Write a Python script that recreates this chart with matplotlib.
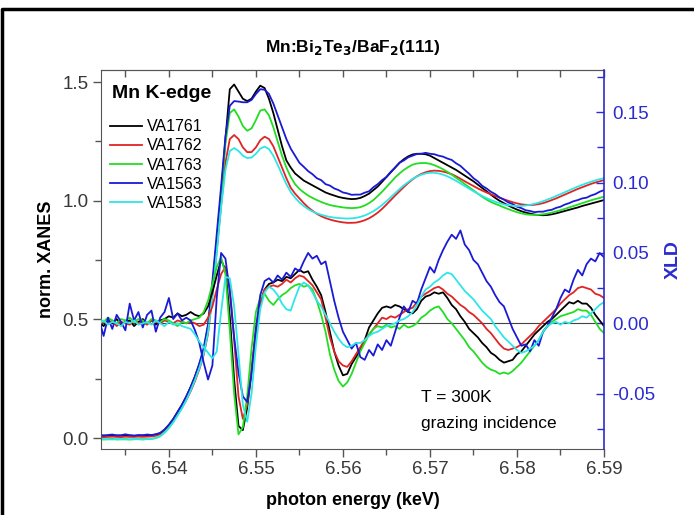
import numpy as np
import matplotlib
matplotlib.use("Agg")
import matplotlib.pyplot as plt
from matplotlib.lines import Line2D
from matplotlib.ticker import MultipleLocator, FixedLocator

plt.rcParams['font.family'] = ['Liberation Sans', 'DejaVu Sans']
plt.rcParams['axes.unicode_minus'] = False

# ---------------- data ----------------
energy = np.round(np.arange(117) * 0.0005 + 6.532, 4)   # keV grid

series_names = ["VA1761", "VA1762", "VA1763", "VA1563", "VA1583"]
series_colors = ["#000000", "#e02424", "#22dd22", "#1a1ad6", "#2ee6e6"]

xanes_VA1761 = [
    0.010, 0.011, 0.010, 0.010, 0.011, 0.010, 0.010, 0.011, 0.010, 0.010,
    0.011, 0.011, 0.012, 0.015, 0.020, 0.035, 0.055, 0.080, 0.110, 0.140,
    0.175, 0.215, 0.260, 0.310, 0.370, 0.470, 0.640, 0.830, 1.030, 1.260,
    1.470, 1.490, 1.460, 1.430, 1.420, 1.430, 1.460, 1.485, 1.475, 1.430,
    1.370, 1.300, 1.230, 1.170, 1.140, 1.115, 1.100, 1.085, 1.075, 1.065,
    1.055, 1.045, 1.035, 1.028, 1.022, 1.016, 1.012, 1.009, 1.007, 1.008,
    1.012, 1.020, 1.030, 1.045, 1.060, 1.080, 1.100, 1.120, 1.140, 1.160,
    1.175, 1.187, 1.195, 1.198, 1.198, 1.196, 1.190, 1.180, 1.170, 1.160,
    1.150, 1.140, 1.130, 1.118, 1.106, 1.094, 1.082, 1.068, 1.054, 1.040,
    1.026, 1.012, 1.000, 0.990, 0.980, 0.971, 0.963, 0.956, 0.950, 0.946,
    0.942, 0.940, 0.939, 0.940, 0.943, 0.947, 0.952, 0.957, 0.962, 0.967,
    0.972, 0.978, 0.983, 0.988, 0.993, 0.998, 1.003]
xanes_VA1762 = [
    0.006, 0.004, 0.005, 0.006, 0.005, 0.004, 0.006, 0.005, 0.005, 0.006,
    0.005, 0.006, 0.007, 0.010, 0.016, 0.030, 0.050, 0.073, 0.100, 0.128,
    0.160, 0.197, 0.240, 0.290, 0.350, 0.440, 0.600, 0.790, 0.980, 1.160,
    1.260, 1.277, 1.260, 1.225, 1.205, 1.205, 1.225, 1.255, 1.270, 1.260,
    1.230, 1.185, 1.140, 1.095, 1.055, 1.030, 1.010, 0.990, 0.972, 0.958,
    0.945, 0.935, 0.927, 0.921, 0.916, 0.912, 0.909, 0.907, 0.907, 0.908,
    0.912, 0.918, 0.926, 0.937, 0.950, 0.966, 0.984, 1.003, 1.022, 1.040,
    1.058, 1.075, 1.090, 1.103, 1.113, 1.120, 1.125, 1.127, 1.126, 1.123,
    1.118, 1.112, 1.103, 1.093, 1.082, 1.072, 1.062, 1.052, 1.043, 1.035,
    1.027, 1.020, 1.013, 1.006, 1.000, 0.994, 0.989, 0.985, 0.983, 0.982,
    0.983, 0.986, 0.990, 0.996, 1.003, 1.010, 1.018, 1.026, 1.034, 1.042,
    1.050, 1.057, 1.064, 1.071, 1.077, 1.082, 1.087]
xanes_VA1763 = [
    -0.004, -0.006, -0.005, -0.003, -0.006, -0.005, -0.004, -0.006, -0.005, -0.004,
    -0.005, -0.004, -0.003, 0.000, 0.008, 0.025, 0.045, 0.070, 0.100, 0.130,
    0.165, 0.205, 0.250, 0.300, 0.360, 0.460, 0.630, 0.820, 1.020, 1.240,
    1.370, 1.385, 1.355, 1.315, 1.295, 1.305, 1.340, 1.380, 1.385, 1.360,
    1.310, 1.250, 1.190, 1.140, 1.100, 1.070, 1.050, 1.035, 1.022, 1.012,
    1.003, 0.995, 0.988, 0.982, 0.978, 0.975, 0.972, 0.970, 0.969, 0.970,
    0.973, 0.980, 0.990, 1.003, 1.020, 1.038, 1.058, 1.078, 1.098, 1.115,
    1.130, 1.142, 1.152, 1.157, 1.159, 1.159, 1.156, 1.150, 1.142, 1.133,
    1.122, 1.110, 1.097, 1.084, 1.070, 1.057, 1.044, 1.030, 1.017, 1.005,
    0.995, 0.987, 0.980, 0.972, 0.965, 0.958, 0.952, 0.947, 0.943, 0.941,
    0.940, 0.941, 0.943, 0.946, 0.950, 0.955, 0.960, 0.966, 0.972, 0.978,
    0.984, 0.990, 0.996, 1.002, 1.007, 1.012, 1.017]
xanes_VA1563 = [
    0.014, 0.010, 0.013, 0.015, 0.011, 0.012, 0.016, 0.012, 0.010, 0.013,
    0.012, 0.015, 0.013, 0.016, 0.022, 0.036, 0.056, 0.080, 0.110, 0.140,
    0.175, 0.215, 0.260, 0.315, 0.380, 0.480, 0.660, 0.860, 1.060, 1.270,
    1.400, 1.420, 1.418, 1.415, 1.415, 1.425, 1.450, 1.470, 1.468, 1.450,
    1.410, 1.360, 1.310, 1.260, 1.220, 1.190, 1.160, 1.143, 1.125, 1.112,
    1.095, 1.087, 1.070, 1.064, 1.052, 1.045, 1.035, 1.031, 1.025, 1.026,
    1.026, 1.034, 1.040, 1.057, 1.070, 1.087, 1.100, 1.122, 1.140, 1.160,
    1.170, 1.183, 1.190, 1.197, 1.198, 1.202, 1.198, 1.196, 1.190, 1.186,
    1.178, 1.172, 1.158, 1.147, 1.130, 1.114, 1.095, 1.082, 1.063, 1.052,
    1.038, 1.028, 1.014, 1.005, 0.993, 0.986, 0.975, 0.969, 0.960, 0.957,
    0.952, 0.954, 0.954, 0.959, 0.962, 0.970, 0.975, 0.984, 0.990, 0.998,
    1.003, 1.010, 1.013, 1.022, 1.028, 1.038, 1.045]
xanes_VA1583 = [
    -0.006, -0.004, -0.005, -0.006, -0.004, -0.005, -0.006, -0.005, -0.004, -0.005,
    -0.006, -0.004, -0.003, 0.000, 0.008, 0.022, 0.042, 0.066, 0.095, 0.125,
    0.160, 0.200, 0.245, 0.295, 0.355, 0.445, 0.600, 0.780, 0.970, 1.130,
    1.210, 1.222, 1.210, 1.190, 1.180, 1.182, 1.198, 1.220, 1.228, 1.218,
    1.190, 1.152, 1.110, 1.070, 1.037, 1.013, 0.993, 0.978, 0.965, 0.955,
    0.947, 0.941, 0.936, 0.932, 0.929, 0.927, 0.926, 0.925, 0.926, 0.928,
    0.932, 0.938, 0.946, 0.956, 0.968, 0.982, 0.998, 1.015, 1.032, 1.049,
    1.065, 1.079, 1.092, 1.102, 1.110, 1.115, 1.118, 1.118, 1.115, 1.110,
    1.103, 1.094, 1.084, 1.073, 1.062, 1.051, 1.040, 1.030, 1.020, 1.011,
    1.003, 0.996, 0.990, 0.985, 0.981, 0.979, 0.978, 0.978, 0.980, 0.983,
    0.987, 0.992, 0.998, 1.005, 1.012, 1.020, 1.028, 1.036, 1.044, 1.052,
    1.060, 1.067, 1.074, 1.080, 1.086, 1.091, 1.095]

xld_VA1761 = [
    0.001, -0.002, 0.002, 0.000, 0.003, -0.001, 0.001, 0.002, -0.002, 0.001,
    0.003, 0.000, 0.002, -0.001, 0.002, 0.003, 0.005, 0.004, 0.007, 0.005,
    0.006, 0.008, 0.006, 0.005, 0.007, 0.012, 0.022, 0.034, 0.045, 0.038,
    0.005, -0.040, -0.073, -0.076, -0.060, -0.035, -0.006, 0.014, 0.024, 0.028,
    0.029, 0.031, 0.030, 0.033, 0.032, 0.035, 0.038, 0.036, 0.037, 0.031,
    0.026, 0.020, 0.008, -0.006, -0.020, -0.030, -0.037, -0.036, -0.029, -0.024,
    -0.019, -0.012, -0.003, 0.002, 0.007, 0.011, 0.012, 0.011, 0.013, 0.012,
    0.010, 0.008, 0.007, 0.010, 0.016, 0.019, 0.020, 0.022, 0.021, 0.022,
    0.018, 0.013, 0.010, 0.005, 0.001, -0.004, -0.007, -0.010, -0.014, -0.017,
    -0.021, -0.023, -0.026, -0.028, -0.027, -0.026, -0.022, -0.020, -0.016, -0.012,
    -0.008, -0.005, -0.002, 0.001, 0.003, 0.006, 0.009, 0.012, 0.015, 0.014,
    0.016, 0.014, 0.014, 0.011, 0.006, 0.002, -0.002]
xld_VA1762 = [
    -0.001, 0.001, 0.000, 0.002, -0.002, 0.001, 0.000, -0.001, 0.002, 0.000,
    0.001, -0.001, 0.002, 0.001, 0.000, 0.002, 0.001, 0.000, 0.002, 0.001,
    0.000, 0.001, 0.000, -0.002, -0.001, 0.004, 0.012, 0.024, 0.035, 0.040,
    0.026, -0.012, -0.052, -0.068, -0.058, -0.032, -0.004, 0.015, 0.024, 0.026,
    0.027, 0.026, 0.028, 0.031, 0.029, 0.032, 0.034, 0.033, 0.030, 0.027,
    0.022, 0.017, 0.004, -0.010, -0.020, -0.027, -0.030, -0.031, -0.027, -0.022,
    -0.017, -0.012, -0.008, -0.004, 0.000, 0.004, 0.003, 0.005, 0.004, 0.006,
    0.008, 0.010, 0.011, 0.015, 0.019, 0.021, 0.023, 0.025, 0.026, 0.024,
    0.021, 0.019, 0.016, 0.013, 0.011, 0.008, 0.006, 0.003, 0.000, -0.004,
    -0.007, -0.011, -0.015, -0.018, -0.019, -0.018, -0.017, -0.015, -0.012, -0.009,
    -0.006, -0.002, 0.001, 0.004, 0.007, 0.010, 0.014, 0.017, 0.020, 0.022,
    0.025, 0.026, 0.025, 0.024, 0.021, 0.020, 0.018]
xld_VA1763 = [
    0.003, 0.001, 0.004, 0.002, 0.000, 0.003, 0.002, 0.004, 0.001, 0.003,
    0.002, 0.000, 0.003, 0.002, 0.001, 0.003, 0.002, 0.000, -0.002, 0.001,
    0.000, 0.002, 0.003, 0.004, 0.008, 0.016, 0.028, 0.040, 0.047, 0.035,
    -0.005, -0.050, -0.079, -0.074, -0.052, -0.018, 0.008, 0.018, 0.021, 0.016,
    0.013, 0.017, 0.020, 0.022, 0.025, 0.027, 0.028, 0.026, 0.027, 0.024,
    0.016, 0.006, -0.006, -0.022, -0.033, -0.041, -0.045, -0.042, -0.036, -0.028,
    -0.020, -0.014, -0.008, -0.004, -0.002, -0.003, -0.001, -0.003, -0.002, -0.004,
    -0.001, -0.003, -0.002, 0.000, 0.004, 0.006, 0.009, 0.011, 0.012, 0.008,
    0.003, 0.000, -0.004, -0.008, -0.012, -0.017, -0.020, -0.024, -0.028, -0.031,
    -0.033, -0.034, -0.036, -0.035, -0.036, -0.034, -0.031, -0.028, -0.024, -0.020,
    -0.016, -0.012, -0.006, -0.002, 0.001, 0.003, 0.005, 0.006, 0.007, 0.008,
    0.010, 0.009, 0.009, 0.006, 0.001, -0.004, -0.007]
xld_VA1563 = [
    0.002, -0.009, 0.004, -0.004, 0.006, 0.001, -0.005, 0.014, 0.002, 0.008,
    -0.003, 0.006, 0.009, -0.006, 0.004, 0.008, 0.018, 0.003, 0.007, 0.002,
    0.004, 0.002, -0.005, -0.014, -0.028, -0.040, -0.030, 0.018, 0.050, 0.046,
    0.022, -0.010, -0.035, -0.052, -0.056, -0.036, -0.004, 0.020, 0.030, 0.032,
    0.029, 0.034, 0.031, 0.036, 0.033, 0.039, 0.037, 0.044, 0.050, 0.046,
    0.048, 0.042, 0.044, 0.030, 0.016, 0.004, -0.006, -0.012, -0.018, -0.014,
    -0.024, -0.026, -0.019, -0.023, -0.015, -0.019, -0.012, -0.016, -0.006, 0.004,
    0.012, 0.008, 0.016, 0.014, 0.024, 0.032, 0.040, 0.036, 0.045, 0.052,
    0.058, 0.063, 0.060, 0.066, 0.056, 0.052, 0.045, 0.042, 0.036, 0.030,
    0.026, 0.020, 0.015, 0.012, 0.004, -0.004, -0.010, -0.016, -0.015, -0.020,
    -0.012, -0.016, -0.006, -0.002, 0.004, 0.010, 0.018, 0.024, 0.022, 0.031,
    0.038, 0.034, 0.042, 0.046, 0.044, 0.050, 0.047]
xld_VA1583 = [
    0.000, 0.002, -0.001, 0.001, 0.000, -0.002, 0.001, 0.000, 0.002, -0.001,
    0.000, 0.001, -0.001, 0.002, 0.000, -0.002, 0.001, -0.001, 0.000, -0.002,
    -0.003, -0.004, -0.008, -0.013, -0.017, -0.021, -0.025, -0.020, 0.008, 0.033,
    0.032, 0.012, -0.022, -0.058, -0.070, -0.050, -0.016, 0.010, 0.022, 0.026,
    0.024, 0.020, 0.014, 0.010, 0.009, 0.018, 0.026, 0.029, 0.027, 0.022,
    0.016, 0.012, 0.006, 0.000, -0.006, -0.011, -0.015, -0.017, -0.016, -0.014,
    -0.014, -0.012, -0.009, -0.007, -0.006, -0.004, -0.002, -0.001, 0.000, 0.002,
    0.003, 0.005, 0.008, 0.013, 0.019, 0.024, 0.026, 0.029, 0.031, 0.034,
    0.036, 0.035, 0.031, 0.027, 0.023, 0.020, 0.017, 0.013, 0.009, 0.006,
    0.003, -0.002, -0.006, -0.010, -0.013, -0.016, -0.019, -0.021, -0.020, -0.018,
    -0.016, -0.012, -0.006, -0.002, 0.000, 0.001, -0.001, 0.001, 0.000, 0.002,
    0.003, 0.005, 0.004, 0.007, 0.010, 0.013, 0.015]

xanes_all = [xanes_VA1761, xanes_VA1762, xanes_VA1763, xanes_VA1563, xanes_VA1583]
xld_all = [xld_VA1761, xld_VA1762, xld_VA1763, xld_VA1563, xld_VA1583]

x_ticks = [6.54, 6.55, 6.56, 6.57, 6.58, 6.59]
y_ticks = [0.0, 0.5, 1.0, 1.5]
y2_ticks = [-0.05, 0.00, 0.05, 0.10, 0.15]

# ---------------- figure ----------------
W, H = 694, 515
fig = plt.figure(figsize=(W / 100, H / 100), dpi=100)
ax = fig.add_axes([101 / W, 1 - 449 / H, 503 / W, 379 / H])
ax2 = ax.twinx()

tick_col = "#383838"
spine_col = "#555555"
blue = "#2b2bd0"

for vals, c, n in zip(xanes_all, series_colors, series_names):
    ax.plot(energy, vals, color=c, lw=1.3, label=n)

ax2.axhline(0.0, color="#444444", lw=0.8, zorder=1)
for vals, c in zip(xld_all, series_colors):
    ax2.plot(energy, vals, color=c, lw=1.3)

ax.set_xlim(6.5322, 6.5900)
ax.set_ylim(-0.046, 1.551)
ax2.set_ylim(-0.0894, 0.1801)

ax.xaxis.set_major_locator(FixedLocator(x_ticks))
ax.xaxis.set_minor_locator(MultipleLocator(0.005))
ax.set_xticklabels([f"{v:.2f}" for v in x_ticks])
ax.yaxis.set_major_locator(FixedLocator(y_ticks))
ax.yaxis.set_minor_locator(MultipleLocator(0.25))
ax.set_yticklabels([f"{v:.1f}" for v in y_ticks])
ax2.yaxis.set_major_locator(FixedLocator(y2_ticks))
ax2.yaxis.set_minor_locator(MultipleLocator(0.025))
ax2.set_yticklabels([f"{v:.2f}" for v in y2_ticks])

ax.tick_params(axis='x', which='major', direction='out', length=6, width=1,
               color=spine_col, labelsize=13.5, labelcolor=tick_col, pad=3)
ax.tick_params(axis='x', which='minor', direction='out', length=4, width=1, color=spine_col)
ax.tick_params(axis='y', which='major', direction='out', length=6, width=1,
               color=spine_col, labelsize=13.5, labelcolor=tick_col, pad=3, right=False)
ax.tick_params(axis='y', which='minor', direction='out', length=4, width=1,
               color=spine_col, right=False)
ax2.tick_params(axis='y', which='major', direction='in', length=6, width=1,
                color=blue, labelsize=13.5, labelcolor=blue, pad=6)
ax2.tick_params(axis='y', which='minor', direction='in', length=5, width=1, color=blue)

top = ax.secondary_xaxis('top')
top.xaxis.set_major_locator(FixedLocator(x_ticks))
top.xaxis.set_minor_locator(MultipleLocator(0.005))
top.tick_params(which='both', direction='in', length=5, width=1, color=spine_col,
                labeltop=False)
top.spines['top'].set_color(spine_col)

for s in ['left', 'bottom', 'top']:
    ax.spines[s].set_color(spine_col)
    ax2.spines[s].set_visible(False)
ax.spines['right'].set_visible(False)
ax2.spines['right'].set_color(blue)
ax2.spines['right'].set_linewidth(1.2)

ax.set_xlabel("photon energy (keV)", fontsize=13, fontweight='bold', labelpad=10)
ax.set_ylabel("norm. XANES", fontsize=13, fontweight='bold', labelpad=5)
ax2.set_ylabel("XLD", fontsize=14, fontweight='bold', color=blue, labelpad=7)
ax.set_title(r"Mn:Bi$_\mathbf{2}$Te$_\mathbf{3}$/BaF$_\mathbf{2}$(111)", fontsize=12.5,
             fontweight='bold', pad=13)

ax.text(0.022, 0.938, "Mn K-edge", transform=ax.transAxes, fontsize=14,
        fontweight='bold', va='center', ha='left')
leg = ax.legend(loc='upper left', bbox_to_anchor=(0.006, 0.887), frameon=False,
                fontsize=11.5, handlelength=2.0, handletextpad=0.3,
                labelspacing=0.26, borderaxespad=0)
ax.text(0.636, 0.135, "T = 300K", transform=ax.transAxes, fontsize=12.5,
        va='center', ha='left')
ax.text(0.636, 0.066, "grazing incidence", transform=ax.transAxes, fontsize=12.5,
        va='center', ha='left')

# figure frame (top and left edges)
fig.add_artist(Line2D([2 / W, 2 / W, 1.0], [0.0, 1 - 9 / H, 1 - 9 / H],
                      transform=fig.transFigure, color='black', lw=2.5))

fig.savefig("out.png", dpi=100)
